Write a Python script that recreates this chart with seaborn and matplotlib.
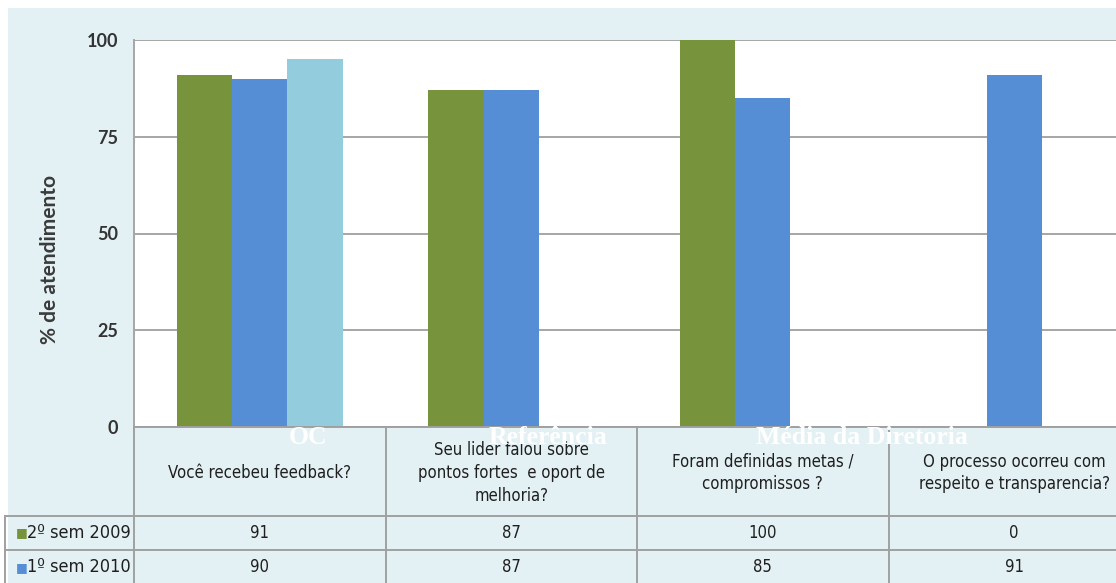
import numpy as np
import pandas as pd
import matplotlib
matplotlib.use("Agg")
import matplotlib.pyplot as plt
from matplotlib.patches import Rectangle
import seaborn as sns

# Survey questions (one column of the data table each)
perguntas = [
    "Você recebeu feedback?",
    "Seu lider falou sobre\npontos fortes  e oport de\nmelhoria?",
    "Foram definidas metas /\ncompromissos ?",
    "O processo ocorreu com\nrespeito e transparencia?",
]
series = ["2º sem 2009", "1º sem 2010", "Média"]
sem_2009 = [91, 87, 100, 0]
sem_2010 = [90, 87, 85, 91]
media = [95, np.nan, np.nan, np.nan]
yticks = [0, 25, 50, 75, 100]
overlay_labels = ["OC", "Referência", "Média da Diretoria"]

cores = ["#77933c", "#558ed5", "#93cddd"]

df = pd.DataFrame({
    "pergunta": perguntas * 3,
    "serie": [series[0]] * 4 + [series[1]] * 4 + [series[2]] * 4,
    "valor": sem_2009 + sem_2010 + media,
})

W, H = 1116, 583
fig = plt.figure(figsize=(W / 100, H / 100), dpi=100)
fig.patch.set_facecolor("white")

# light blue page background
bg = Rectangle((8 / W, 0), 1, (H - 8) / H, transform=fig.transFigure,
               facecolor="#e3f0f4", edgecolor="none", zorder=-5)
fig.add_artist(bg)

def px_box(x0, y0, x1, y1):
    return [x0 / W, (H - y1) / H, (x1 - x0) / W, (y1 - y0) / H]

TABLE_FONT = dict(family="DejaVu Sans", fontstretch="condensed")
TEXT_COLOR = "#1f1f1f"

# chart area
ax = fig.add_axes(px_box(134, 40, 1140, 427))
ax.set_zorder(1)
ax.set_facecolor("white")
sns.barplot(data=df, x="pergunta", y="valor", hue="serie", hue_order=series,
            palette=cores, width=0.66, saturation=1, legend=False, ax=ax,
            errorbar=None, zorder=3)
ax.set_xlim(-0.5, 3.5)
ax.set_ylim(0, 100)
ax.set_yticks(yticks)
ax.set_yticklabels([str(v) for v in yticks], fontsize=13, color="#333333",
                   fontweight="bold", family="Lato")
ax.tick_params(axis="y", length=0, pad=11.5)
ax.set_xticks([])
ax.set_xlabel("")
ax.set_ylabel("% de atendimento", fontsize=15, fontweight="bold", color="#3a3a3a",
              family="Lato")
ax.yaxis.label.set_va("center")
ax.yaxis.set_label_coords((50 - 134) / 1006, (427 - 259) / 387)
ax.yaxis.grid(True, color="#a6a6a6", linewidth=1.4, zorder=0)
ax.set_axisbelow(True)
for s in ["top", "right", "bottom"]:
    ax.spines[s].set_visible(False)
ax.spines["left"].set_color("#a6a6a6")
ax.spines["left"].set_linewidth(1.4)

# data table below the chart, sharing the category scale
cat_px = (1140 - 134) / 4
left_units = (134 - 5) / cat_px
tab = fig.add_axes(px_box(5, 427, 1140, 600))
tab.set_zorder(2)
tab.axis("off")

lc = "#a0a0a0"
lw = 1.4
row_y = [0, 89, 123, 158]
xl = -0.5 - left_units
tab.plot([-0.5, 3.5], [row_y[0], row_y[0]], color=lc, lw=lw, clip_on=False)
for yy in row_y[1:4]:
    tab.plot([xl, 3.5], [yy, yy], color=lc, lw=lw, clip_on=False)
for k in range(4):
    tab.plot([k - 0.5, k - 0.5], [row_y[0], row_y[3]], color=lc, lw=lw, clip_on=False)
tab.plot([xl, xl], [row_y[1], row_y[3]], color=lc, lw=lw, clip_on=False)
tab.set_xlim(xl, 3.5)
tab.set_ylim(173, 0)

txt_kw = dict(fontsize=12, color=TEXT_COLOR, ha="center", va="center", **TABLE_FONT)
for i, q in enumerate(perguntas):
    tab.text(i, (row_y[0] + row_y[1]) / 2 + 1.5, q, linespacing=1.35, **txt_kw)
    tab.text(i, (row_y[1] + row_y[2]) / 2, f"{sem_2009[i]:g}", **txt_kw)
    tab.text(i, (row_y[2] + row_y[3]) / 2, f"{sem_2010[i]:g}", **txt_kw)

for r, (nome, cor) in enumerate(zip(series[:2], cores[:2])):
    yc = (row_y[r + 1] + row_y[r + 2]) / 2
    tab.text(xl + 11 / cat_px, yc, "■", color=cor, fontsize=9, ha="left",
             va="center", family="DejaVu Sans")
    tab.text(xl + 22 / cat_px, yc, nome, fontsize=13, color=TEXT_COLOR,
             ha="left", va="center", **TABLE_FONT)

# white overlay titles
for lab, xp in zip(overlay_labels, [308, 548, 862]):
    fig.text(xp / W, (H - 444) / H, lab, color="white", fontsize=18.5,
             fontweight="bold", family="Liberation Serif", ha="center",
             va="baseline", zorder=10)

fig.savefig("out.png", dpi=100)
